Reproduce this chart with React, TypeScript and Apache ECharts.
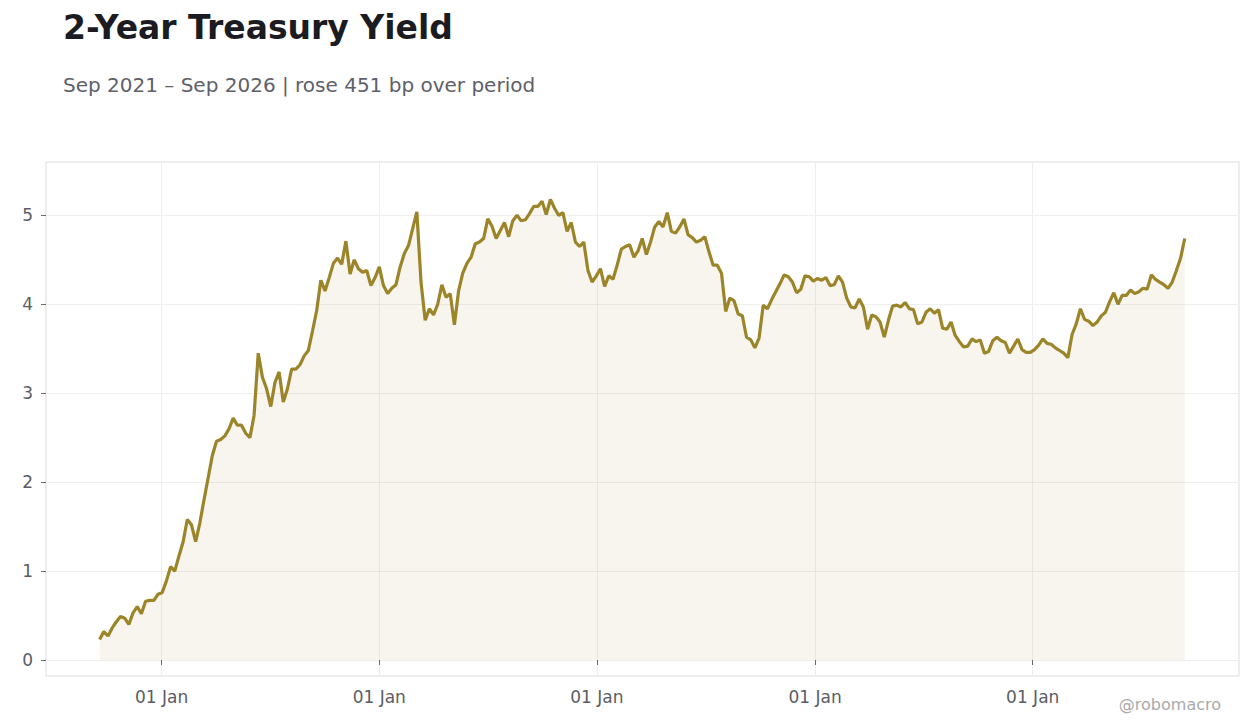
import React, { useEffect, useRef } from 'react';
import * as echarts from 'echarts';

type EChartsOption = echarts.EChartsOption;

// weekly observations, first one on 2021-09-19
const startDate = '2021-09-19';
const stepDays = 7;

const yields: number[] = [
  0.23, 0.32, 0.27, 0.36, 0.43, 0.49, 0.47, 0.40, 0.53, 0.60,
  0.52, 0.66, 0.67, 0.67, 0.74, 0.76, 0.89, 1.05, 1.00, 1.17,
  1.33, 1.58, 1.52, 1.33, 1.54, 1.80, 2.05, 2.30, 2.46, 2.48,
  2.52, 2.60, 2.72, 2.64, 2.64, 2.55, 2.50, 2.75, 3.45, 3.18,
  3.05, 2.85, 3.12, 3.24, 2.90, 3.05, 3.27, 3.27, 3.32, 3.42,
  3.48, 3.70, 3.93, 4.27, 4.15, 4.30, 4.46, 4.52, 4.45, 4.71,
  4.34, 4.50, 4.40, 4.36, 4.38, 4.21, 4.30, 4.42, 4.21, 4.12,
  4.18, 4.22, 4.42, 4.57, 4.66, 4.85, 5.04, 4.25, 3.82, 3.95,
  3.88, 4.00, 4.22, 4.08, 4.12, 3.77, 4.15, 4.35, 4.46, 4.53,
  4.68, 4.70, 4.74, 4.96, 4.88, 4.74, 4.83, 4.92, 4.76, 4.94,
  5.00, 4.94, 4.95, 5.02, 5.10, 5.10, 5.16, 5.01, 5.18, 5.08,
  5.00, 5.03, 4.82, 4.92, 4.70, 4.65, 4.70, 4.38, 4.25, 4.32,
  4.40, 4.20, 4.32, 4.28, 4.44, 4.62, 4.65, 4.67, 4.53, 4.60,
  4.74, 4.56, 4.70, 4.87, 4.93, 4.87, 5.03, 4.82, 4.80, 4.87,
  4.96, 4.78, 4.75, 4.70, 4.72, 4.76, 4.59, 4.44, 4.44, 4.35,
  3.92, 4.07, 4.04, 3.89, 3.87, 3.63, 3.60, 3.51, 3.62, 3.99,
  3.95, 4.05, 4.14, 4.23, 4.33, 4.31, 4.25, 4.13, 4.17, 4.32,
  4.31, 4.26, 4.29, 4.27, 4.30, 4.21, 4.22, 4.32, 4.25, 4.07,
  3.97, 3.96, 4.06, 3.97, 3.72, 3.88, 3.86, 3.80, 3.63, 3.82,
  3.98, 3.99, 3.97, 4.02, 3.95, 3.94, 3.78, 3.80, 3.91, 3.95,
  3.90, 3.94, 3.73, 3.72, 3.80, 3.65, 3.58, 3.52, 3.53, 3.61,
  3.58, 3.60, 3.45, 3.47, 3.59, 3.63, 3.59, 3.57, 3.45, 3.53,
  3.61, 3.49, 3.46, 3.46, 3.49, 3.54, 3.61, 3.56, 3.55, 3.51,
  3.48, 3.45, 3.40, 3.66, 3.78, 3.95, 3.83, 3.81, 3.76, 3.80,
  3.87, 3.91, 4.03, 4.13, 4.00, 4.10, 4.10, 4.16, 4.12, 4.14,
  4.18, 4.17, 4.33, 4.28, 4.25, 4.22, 4.18, 4.25, 4.38, 4.52,
  4.74,
];

// tick positions
const yTicks = [0, 1, 2, 3, 4, 5];
const tickYears = [2022, 2023, 2024, 2025, 2026];

const titleText = '2-Year Treasury Yield';
const subtitleText = 'Sep 2021 – Sep 2026 | rose 451 bp over period';
const watermark = '@robomacro';

const FONT = '"DejaVu Sans", "Noto Sans", sans-serif';
const LINE = '#9c8428';

const DAY = 24 * 3600 * 1000;

const App: React.FC = () => {
  const chartRef = useRef<HTMLDivElement>(null);

  useEffect(() => {
    if (!chartRef.current) return;
    const chart = echarts.init(chartRef.current, undefined, { renderer: 'svg' });

    const t0 = Date.parse(startDate + 'T00:00:00Z');
    const seriesData = yields.map((v, i) => [t0 + i * stepDays * DAY, v]);
    const xTicks = tickYears.map((y) => Date.UTC(y, 0, 1));

    const option: EChartsOption = {
      animation: false,
      useUTC: true,
      backgroundColor: '#ffffff',
      textStyle: { fontFamily: FONT },
      title: [
        {
          text: titleText,
          left: 63,
          top: 11,
          padding: 0,
          textStyle: { fontFamily: FONT, fontSize: 33, fontWeight: 'bold', color: '#1b1b21' },
        },
        {
          text: subtitleText,
          left: 63,
          top: 75,
          padding: 0,
          textStyle: { fontFamily: FONT, fontSize: 20, fontWeight: 'normal', color: '#5e606a' },
        },
      ],
      grid: {
        left: 46,
        right: 21,
        top: 162,
        bottom: 52,
        show: true,
        borderColor: '#dddddd',
        borderWidth: 1,
        backgroundColor: 'transparent',
      },
      xAxis: {
        type: 'time',
        min: Date.UTC(2021, 5, 21),
        max: Date.UTC(2026, 11, 13),
        minInterval: 365 * DAY,
        maxInterval: 366 * DAY,
        axisLine: { show: false },
        axisTick: {
          show: true,
          length: 5,
          customValues: xTicks,
          lineStyle: { color: '#6b6b6b' },
        } as any,
        axisLabel: {
          margin: 12,
          fontSize: 17,
          color: '#5b5d66',
          fontFamily: FONT,
          hideOverlap: false,
          formatter: (value: number) => {
            const d = new Date(value);
            return d.getUTCMonth() === 0 && d.getUTCDate() === 1 ? '01 Jan' : '';
          },
        },
        splitLine: { show: true, lineStyle: { color: '#eeeeee', width: 1 } },
      },
      yAxis: {
        type: 'value',
        min: -0.18,
        max: 5.6,
        axisLine: { show: false },
        axisTick: {
          show: true,
          length: 5,
          customValues: yTicks,
          lineStyle: { color: '#6b6b6b' },
        } as any,
        axisLabel: {
          margin: 13,
          fontSize: 17,
          color: '#5b5d66',
          fontFamily: FONT,
          customValues: yTicks,
          formatter: (v: number) => String(v),
        } as any,
        splitLine: { show: true, lineStyle: { color: '#eeeeee', width: 1 } },
      },
      graphic: [
        {
          type: 'text',
          right: 39,
          top: 696,
          style: { text: watermark, font: '16px ' + FONT, fill: '#aaaaaa' },
        },
      ],
      series: [
        {
          type: 'line',
          data: seriesData,
          showSymbol: false,
          symbol: 'none',
          lineStyle: { color: LINE, width: 3.2 },
          areaStyle: { color: LINE, opacity: 0.08 },
          itemStyle: { color: LINE },
        },
      ],
    };

    chart.setOption(option);

    return () => {
      chart.dispose();
    };
  }, []);

  return (
    <div
      ref={chartRef}
      style={{ position: 'fixed', left: 0, top: 0, width: '1260px', height: '728px' }}
    />
  );
};

export default App;
